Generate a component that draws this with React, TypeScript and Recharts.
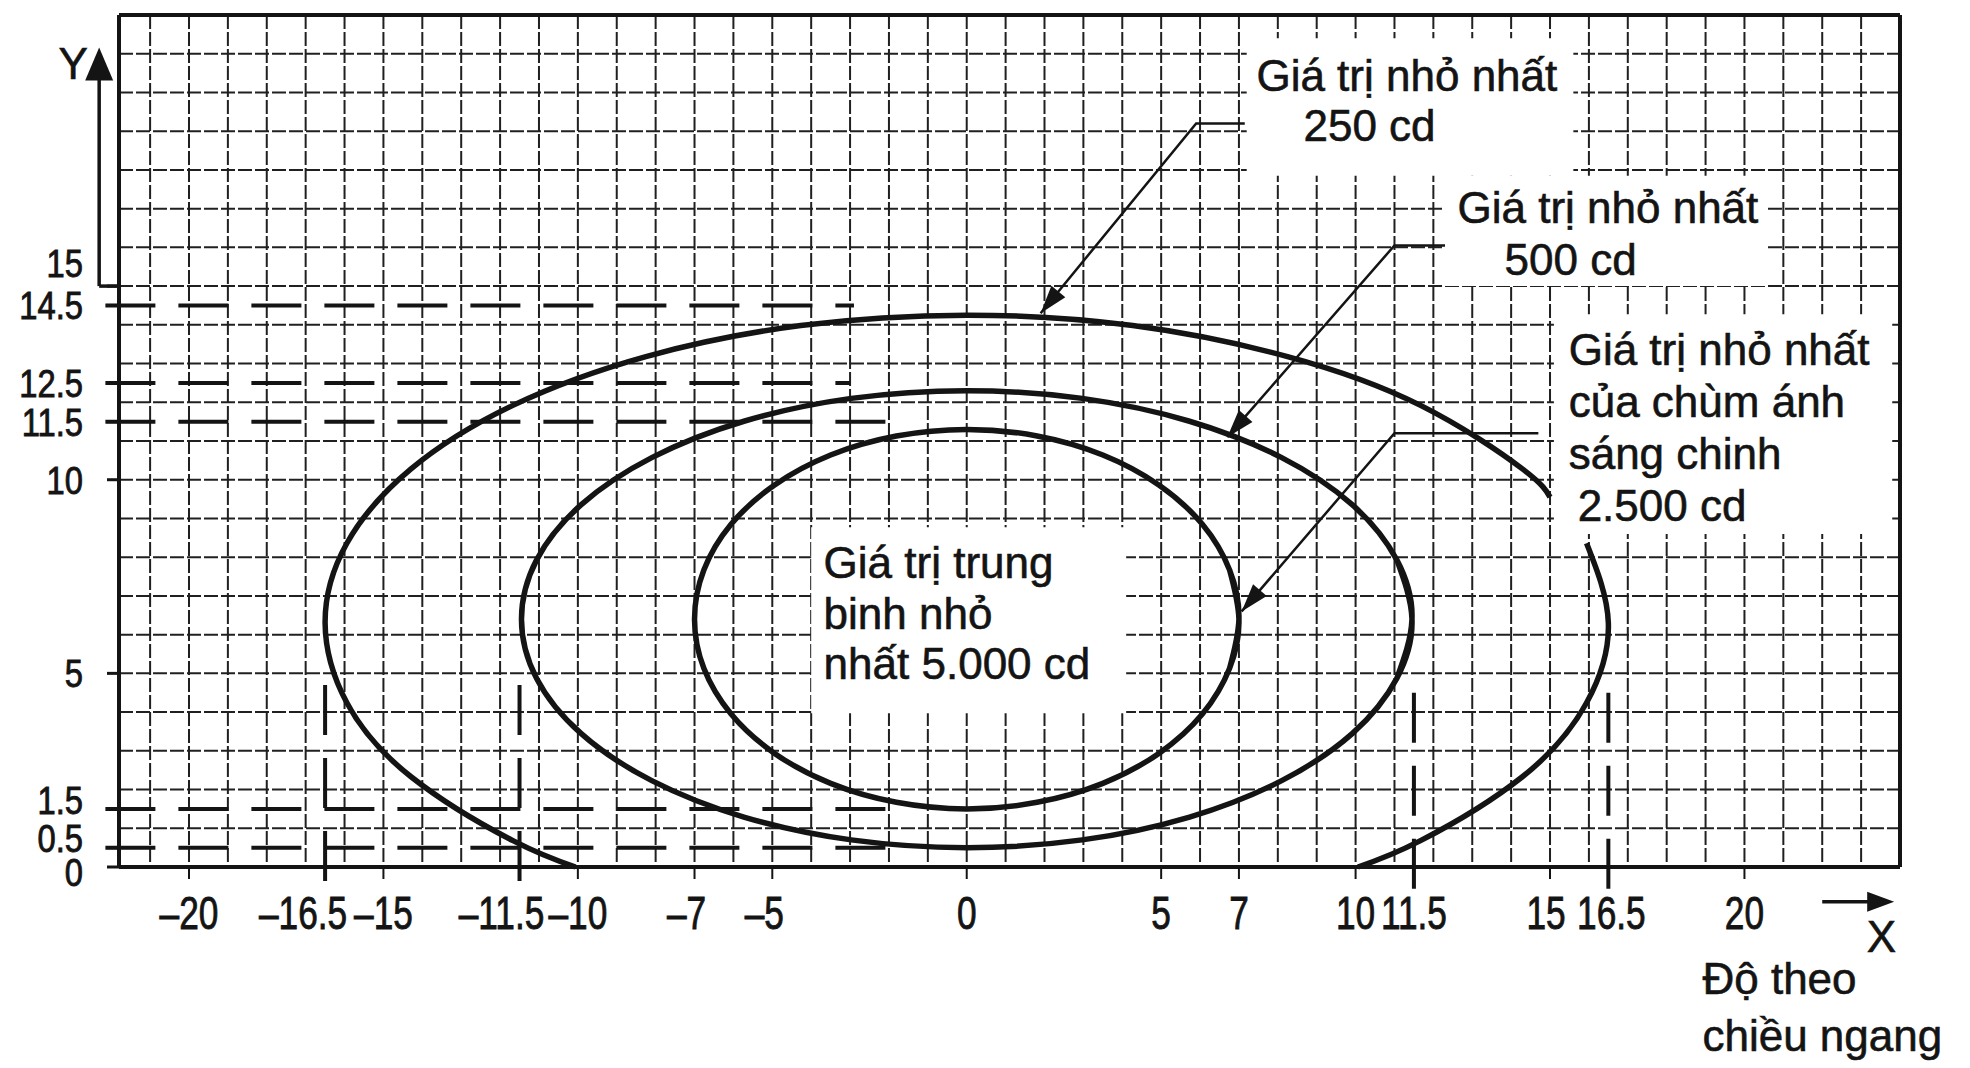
import React from 'react';
import {
  ComposedChart, Line, XAxis, YAxis, CartesianGrid, ReferenceLine, ReferenceArea, ReferenceDot
} from 'recharts';

// axis ticks as printed on the scan
const X_TICKS = [-20, -16.5, -15, -11.5, -10, -7, -5, 0, 5, 7, 10, 11.5, 15, 16.5, 20];
const Y_TICKS = [0, 0.5, 1.5, 5, 10, 11.5, 12.5, 14.5, 15];

// graph paper, one line per degree
const GRID_X: number[] = [];
for (let v = -21; v <= 23; v++) GRID_X.push(v);
const GRID_Y: number[] = [];
for (let v = 1; v <= 21; v++) GRID_Y.push(v);

// 2.500 cd contour (inner)
const INNER_2500 = [
  { x: 6.76, y: 5.13 }, { x: 7.0, y: 6.4 }, { x: 6.76, y: 7.67 }, { x: 6.06, y: 8.85 }, { x: 4.95, y: 9.86 },
  { x: 3.5, y: 10.64 }, { x: 1.81, y: 11.13 }, { x: 0, y: 11.3 }, { x: -1.81, y: 11.13 }, { x: -3.5, y: 10.64 },
  { x: -4.95, y: 9.86 }, { x: -6.06, y: 8.85 }, { x: -6.76, y: 7.67 }, { x: -7.0, y: 6.4 }, { x: -6.76, y: 5.13 },
  { x: -6.06, y: 3.95 }, { x: -4.95, y: 2.94 }, { x: -3.5, y: 2.16 }, { x: -1.81, y: 1.67 }, { x: 0, y: 1.5 },
  { x: 1.81, y: 1.67 }, { x: 3.5, y: 2.16 }, { x: 4.95, y: 2.94 }, { x: 6.06, y: 3.95 }, { x: 6.76, y: 5.13 },
  { x: 7.0, y: 6.4 }, { x: 6.76, y: 7.67 },
];

// 500 cd contour (middle)
const MIDDLE_500 = [
  { x: 11.06, y: 4.87 }, { x: 11.45, y: 6.4 }, { x: 11.06, y: 7.93 }, { x: 9.92, y: 9.35 }, { x: 8.1, y: 10.57 },
  { x: 5.73, y: 11.51 }, { x: 2.97, y: 12.1 }, { x: 0, y: 12.3 }, { x: -2.97, y: 12.1 }, { x: -5.73, y: 11.51 },
  { x: -8.1, y: 10.57 }, { x: -9.92, y: 9.35 }, { x: -11.06, y: 7.93 }, { x: -11.45, y: 6.4 }, { x: -11.06, y: 4.87 },
  { x: -9.92, y: 3.45 }, { x: -8.1, y: 2.23 }, { x: -5.73, y: 1.29 }, { x: -2.97, y: 0.7 }, { x: 0, y: 0.5 },
  { x: 2.97, y: 0.7 }, { x: 5.73, y: 1.29 }, { x: 8.1, y: 2.23 }, { x: 9.92, y: 3.45 }, { x: 11.06, y: 4.87 },
  { x: 11.45, y: 6.4 }, { x: 11.06, y: 7.93 },
];

// 250 cd contour (outer), cut by the x axis and broken under the right label
const OUTER_250_A = [
  { x: -10.06, y: 0 }, { x: -11.67, y: 0.68 }, { x: -14.29, y: 2.33 }, { x: -15.94, y: 4.24 }, { x: -16.5, y: 6.3 },
  { x: -15.94, y: 8.36 }, { x: -14.29, y: 10.28 }, { x: -11.67, y: 11.92 }, { x: -8.25, y: 13.18 }, { x: -4.27, y: 13.98 },
  { x: 0, y: 14.25 }, { x: 4.27, y: 13.98 }, { x: 8.25, y: 13.18 }, { x: 11.67, y: 11.92 }, { x: 14.29, y: 10.28 },
  { x: 15.0, y: 9.55 },
];
const OUTER_250_B = [
  { x: 15.94, y: 8.36 }, { x: 16.5, y: 6.3 }, { x: 15.94, y: 4.24 }, { x: 14.29, y: 2.33 }, { x: 11.67, y: 0.68 },
  { x: 10.06, y: 0 },
];

// leader lines: label end -> bend -> arrow tip on the contour
const LEADER_250 = [{ x: 7.15, y: 19.2 }, { x: 5.9, y: 19.2 }, { x: 1.9, y: 14.3 }];
const LEADER_500 = [{ x: 12.3, y: 16.05 }, { x: 11.0, y: 16.05 }, { x: 6.7, y: 11.1 }];
const LEADER_2500 = [{ x: 14.7, y: 11.2 }, { x: 11.0, y: 11.2 }, { x: 7.07, y: 6.6 }];

// dashed construction lines
const H_DASHES = [
  { y: 14.5, to: -2.9 }, { y: 12.5, to: -3.0 }, { y: 11.5, to: -1.8 }, { y: 1.5, to: -1.9 }, { y: 0.5, to: -1.8 },
];
const V_DASHES = [
  { x: -16.5, from: 4.7, to: -0.45 }, { x: -11.5, from: 4.7, to: -0.45 },
  { x: 11.5, from: 4.5, to: -0.6 }, { x: 16.5, from: 4.5, to: -0.6 },
];

// blank paper behind the labels
const BLANKS = [
  { x1: 7.2, x2: 15.6, y1: 17.85, y2: 21.4 },
  { x1: 12.3, x2: 20.55, y1: 15.0, y2: 17.85 },
  { x1: 15.1, x2: 23.8, y1: 8.6, y2: 14.27 },
  { x1: -4.0, x2: 4.1, y1: 3.97, y2: 8.77 },
];

const NOTES = [
  { x: 7.45, y: 20.44, text: 'Giá trị nhỏ nhất' },
  { x: 8.66, y: 19.15, text: '250 cd' },
  { x: 12.62, y: 17.03, text: 'Giá trị nhỏ nhất' },
  { x: 13.83, y: 15.69, text: '500 cd' },
  { x: 15.48, y: 13.37, text: 'Giá trị nhỏ nhất' },
  { x: 15.48, y: 12.03, text: 'của chùm ánh' },
  { x: 15.48, y: 10.68, text: 'sáng chinh' },
  { x: 15.71, y: 9.34, text: '2.500 cd' },
  { x: -3.68, y: 7.85, text: 'Giá trị trung' },
  { x: -3.68, y: 6.55, text: 'binh nhỏ' },
  { x: -3.68, y: 5.26, text: 'nhất 5.000 cd' },
  { x: 18.92, y: -2.89, text: 'Độ theo' },
  { x: 18.92, y: -4.36, text: 'chiều ngang' },
];

const INK = '#141414';
const SANS = "'Liberation Sans', Arial, Helvetica, sans-serif";

const X_SHIFT: Record<string, number> = { '-16.5': -22, '-11.5': -18, '-7': -8, '-5': -8, '15': -4, '16.5': 3 };
const Y_SHIFT: Record<string, number> = { '15': -23, '1.5': -9, '0.5': -10, '0': 5 };

// scanned tick numbers are a condensed face
const XTick = ({ x, y, payload }: any) => {
  const v = payload.value;
  const label = v < 0 ? `\u2013${Math.abs(v)}` : `${v}`;
  return (
    <g transform={`translate(${x + (X_SHIFT[String(v)] ?? 0)},${y + 50}) scale(0.75,1)`}>
      <text x={0} y={0} textAnchor="middle" fontFamily={SANS} fontSize={47} fill={INK}
        stroke={INK} strokeWidth={0.9}>
        {label}
      </text>
    </g>
  );
};

const YTick = ({ x, y, payload }: any) => {
  const v = payload.value;
  return (
    <g transform={`translate(${x},${y + (Y_SHIFT[String(v)] ?? 0) + 14}) scale(0.84,1)`}>
      <text x={0} y={0} textAnchor="end" fontFamily={SANS} fontSize={39} fill={INK}
        stroke={INK} strokeWidth={0.9}>
        {v}
      </text>
    </g>
  );
};

const headPoints = (cx: number, cy: number, a: number, len: number, half: number) => {
  const bx = cx - len * Math.cos(a);
  const by = cy - len * Math.sin(a);
  const nx = -Math.sin(a) * half;
  const ny = Math.cos(a) * half;
  return `${cx},${cy} ${bx + nx},${by + ny} ${bx - nx},${by - ny}`;
};

// arrow head on the last point of a leader polyline
const arrowHead = (data: { x: number; y: number }[], len: number, half: number) => (props: any) => {
  const { cx, cy, index, points } = props;
  if (index !== data.length - 1) return <g key={`n${index}`} />;
  let a: number;
  if (points && points[index - 1]) {
    a = Math.atan2(cy - points[index - 1].y, cx - points[index - 1].x);
  } else {
    const p = data[index - 1];
    const q = data[index];
    a = Math.atan2(-(q.y - p.y), q.x - p.x);
  }
  return <polygon key={`a${index}`} points={headPoints(cx, cy, a, len, half)} fill={INK} />;
};

const axisHead = (a: number, len: number, half: number) => (p: any) => (
  <polygon points={headPoints(p.cx, p.cy, a, len, half)} fill={INK} />
);

const noteShape = (text: string, anchor: string, size: number) => (p: any) => (
  <text x={p.cx} y={p.cy} dy="0.35em" textAnchor={anchor} fontFamily={SANS} fontSize={size}
    fill={INK} stroke={INK} strokeWidth={0.6}>
    {text}
  </text>
);

export default function App() {
  const contour = (data: any[], key: string) => (
    <Line key={key} data={data} dataKey="y" type="natural" stroke={INK} strokeWidth={5.5}
      dot={false} activeDot={false} isAnimationActive={false} legendType="none" />
  );
  const leader = (data: any[], key: string) => (
    <Line key={key} data={data} dataKey="y" type="linear" stroke={INK} strokeWidth={2.5}
      dot={arrowHead(data, 28, 9)} activeDot={false} isAnimationActive={false} legendType="none" />
  );

  return (
    <div style={{ position: 'absolute', left: 0, top: 0, width: 1970, height: 1068, background: '#fff' }}>
      <ComposedChart width={1970} height={1068} margin={{ top: 15, right: 70, bottom: 0, left: 0 }}>
        <CartesianGrid verticalValues={GRID_X} horizontalValues={GRID_Y} stroke="#202020"
          strokeWidth={2} strokeDasharray="14 3" />
        <XAxis type="number" dataKey="x" domain={[-21.8, 24]} ticks={X_TICKS} interval={0} height={201}
          axisLine={{ stroke: INK, strokeWidth: 4 }} tickLine={{ stroke: INK, strokeWidth: 2 }} tickSize={12}
          tickMargin={0} tick={<XTick />} allowDecimals />
        <YAxis type="number" domain={[0, 22]} ticks={Y_TICKS} interval={0} width={119}
          axisLine={{ stroke: INK, strokeWidth: 4 }} tickLine={{ stroke: INK, strokeWidth: 3 }} tickSize={12}
          tickMargin={24} tick={<YTick />} allowDecimals />

        {BLANKS.map((b, i) => (
          <ReferenceArea key={`b${i}`} x1={b.x1} x2={b.x2} y1={b.y1} y2={b.y2} fill="#fff" fillOpacity={1}
            stroke="none" ifOverflow="visible" />
        ))}

        <ReferenceLine y={22} stroke={INK} strokeWidth={4} />
        <ReferenceLine x={24} stroke={INK} strokeWidth={4} />

        {H_DASHES.map((d, i) => (
          <ReferenceLine key={`h${i}`} segment={[{ x: -22.15, y: d.y }, { x: d.to, y: d.y }]} ifOverflow="visible"
            stroke={INK} strokeWidth={4} strokeDasharray="50 23" />
        ))}
        {V_DASHES.map((d, i) => (
          <ReferenceLine key={`v${i}`} segment={[{ x: d.x, y: d.from }, { x: d.x, y: d.to }]} ifOverflow="visible"
            stroke={INK} strokeWidth={4} strokeDasharray="50 23" />
        ))}

        {/* Y arrow with its foot on the 15 line, X arrow under the axis end */}
        <ReferenceLine segment={[{ x: -21.8, y: 15 }, { x: -22.31, y: 15 }]} ifOverflow="visible"
          stroke={INK} strokeWidth={3.5} />
        <ReferenceLine segment={[{ x: -22.31, y: 15 }, { x: -22.31, y: 20.6 }]} ifOverflow="visible"
          stroke={INK} strokeWidth={3.5} />
        <ReferenceDot x={-22.31} y={21.16} r={0} ifOverflow="visible" shape={axisHead(-Math.PI / 2, 33, 14)} />
        <ReferenceLine segment={[{ x: 22.0, y: -0.9 }, { x: 23.4, y: -0.9 }]} ifOverflow="visible"
          stroke={INK} strokeWidth={3.5} />
        <ReferenceDot x={23.85} y={-0.9} r={0} ifOverflow="visible" shape={axisHead(0, 27, 10)} />

        {contour(OUTER_250_A, 'o1')}
        {contour(OUTER_250_B, 'o2')}
        {contour(MIDDLE_500, 'm')}
        {contour(INNER_2500, 'i')}

        {leader(LEADER_250, 'l1')}
        {leader(LEADER_500, 'l2')}
        {leader(LEADER_2500, 'l3')}

        {NOTES.map((n, i) => (
          <ReferenceDot key={`t${i}`} x={n.x} y={n.y} r={0} ifOverflow="visible"
            shape={noteShape(n.text, 'start', 44)} />
        ))}
        <ReferenceDot x={-22.98} y={20.75} r={0} ifOverflow="visible" shape={noteShape('Y', 'middle', 44)} />
        <ReferenceDot x={23.52} y={-1.81} r={0} ifOverflow="visible" shape={noteShape('X', 'middle', 44)} />
      </ComposedChart>
    </div>
  );
}
